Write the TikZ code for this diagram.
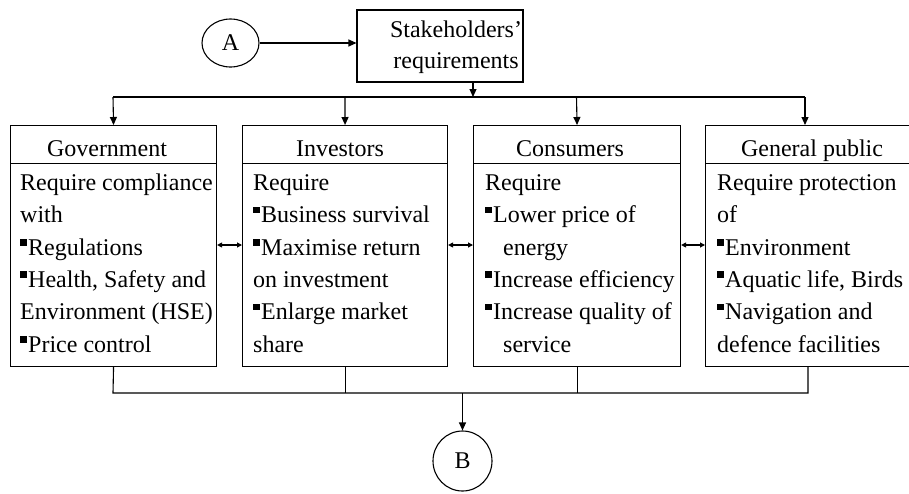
\documentclass[tikz,border=0pt]{standalone}
\usepackage{fontspec}
\setmainfont{Liberation Serif}
\usetikzlibrary{arrows.meta,shapes.geometric}
\newcommand{\sqb}{\rule[9.5pt]{6.5pt}{6.5pt}\hspace{1.5pt}}
\tikzset{
  ln/.style={line width=1.1pt, draw=black},
  arr/.style={ln, -{Triangle[length=8pt,width=7pt]}},
  darr/.style={ln, {Triangle[length=5pt,width=5pt]}-{Triangle[length=5pt,width=5pt]}},
  boxn/.style={ln, rectangle, inner sep=0pt, fill=white},
  circ/.style={ln, ellipse, inner sep=0pt, font=\fontsize{24}{30}\selectfont},
  hdr/.style={anchor=base, inner sep=0pt, font=\fontsize{24}{30}\selectfont},
  body/.style={anchor=north west, inner sep=0pt, align=left, font=\fontsize{24}{32.4}\selectfont},
}
\begin{document}
\begin{tikzpicture}[x=1pt, y=-1pt]
\useasboundingbox (0,0) rectangle (909,493);
% top
\node[circ, minimum width=57pt, minimum height=48pt] (A) at (230.5,43) {A};
\node[boxn, minimum width=166pt, minimum height=72pt] (sr) at (440,46) {};
\node[align=center, inner sep=0pt, font=\fontsize{24}{31}\selectfont, anchor=base] (srt) at (456,68) {Stakeholders’\\requirements};
\draw[arr] (A.east) -- (A.east -| sr.west);
% boxes: headers
\node[boxn, minimum width=206pt, minimum height=38pt, anchor=north west] (gh) at (10,125) {};
\node[boxn, minimum width=205pt, minimum height=38pt, anchor=north west] (ih) at (242,125) {};
\node[boxn, minimum width=207pt, minimum height=38pt, anchor=north west] (ch) at (473,125) {};
\node[boxn, minimum width=207pt, minimum height=38pt, anchor=north west] (ph) at (705,125) {};
% bodies
\node[boxn, minimum width=206pt, minimum height=203pt, anchor=north west] (gb) at (10,163) {};
\node[boxn, minimum width=205pt, minimum height=203pt, anchor=north west] (ib) at (242,163) {};
\node[boxn, minimum width=207pt, minimum height=203pt, anchor=north west] (cb) at (473,163) {};
\node[boxn, minimum width=207pt, minimum height=203pt, anchor=north west] (pb) at (705,163) {};
% header labels
\node[hdr] (ght) at (107,156) {Government};
\node[hdr] (iht) at (340,156) {Investors};
\node[hdr] (cht) at (570,156) {Consumers};
\node[hdr] (pht) at (812,156) {General public};
% body texts
\node[body] (gbt) at (20,173) {\rule{0pt}{17pt}Require compliance\\with\\\sqb Regulations\\\sqb Health, Safety and\\Environment (HSE)\\\sqb Price control};
\node[body] (ibt) at (253,173) {\rule{0pt}{17pt}Require\\\sqb Business survival\\\sqb Maximise return\\on investment\\\sqb Enlarge market\\share};
\node[body] (cbt) at (485,173) {\rule{0pt}{17pt}Require\\\sqb Lower price of\\\hspace*{18pt}energy\\\sqb Increase efficiency\\\sqb Increase quality of\\\hspace*{18pt}service};
\node[body] (pbt) at (717,173) {\rule{0pt}{17pt}Require protection\\of\\\sqb Environment\\\sqb Aquatic life, Birds\\\sqb Navigation and\\defence facilities};
% distribution line
\coordinate (tl) at (113,97);
\coordinate (tr) at (805,97);
\draw[ln] (tl) -- (tr);
\draw[arr] (sr.south -| 473,0) -- (473,97);
\draw[arr] (tl) -- (gh.north);
\draw[arr] (345,97) -- (ih.north);
\draw[arr] (576.5,97) -- (ch.north);
\draw[arr] (tr) -- (805,125);
% double arrows
\draw[darr] (gb.east |- 0,245) -- (ib.west |- 0,245);
\draw[darr] (ib.east |- 0,245) -- (cb.west |- 0,245);
\draw[darr] (cb.east |- 0,245) -- (pb.west |- 0,245);
% bottom
\coordinate (bl) at (113,393);
\coordinate (br) at (808,393);
\draw[ln] (gb.south) -- (bl) -- (br) -- (808,366);
\draw[ln] (ib.south) -- (ib.south |- bl);
\draw[ln] (cb.south) -- (cb.south |- bl);
\node[circ, minimum width=59pt, minimum height=60pt] (B) at (462.5,461) {B};
\draw[arr] (B.north |- bl) -- (B.north);
\end{tikzpicture}
\end{document}
